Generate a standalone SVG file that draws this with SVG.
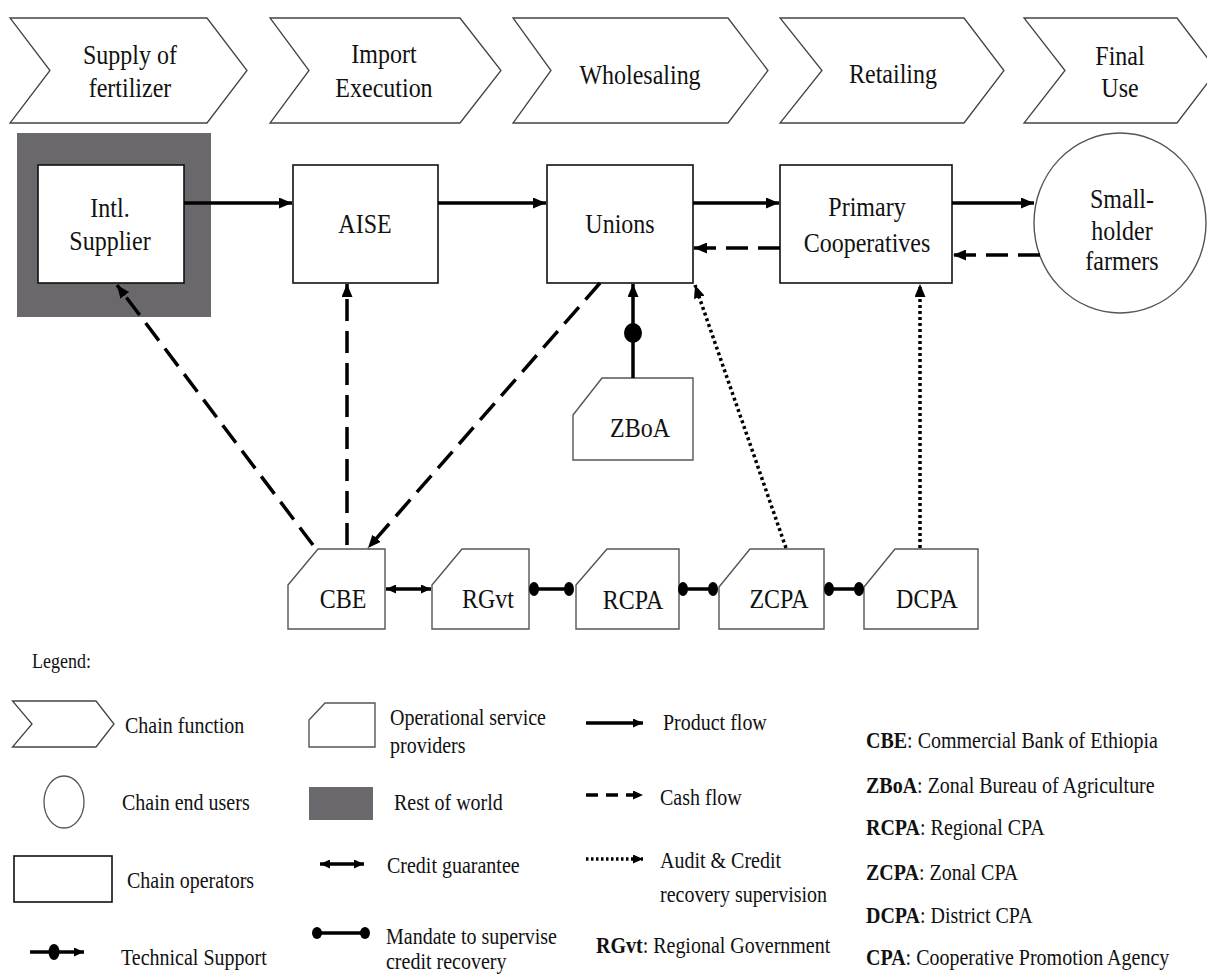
<svg xmlns="http://www.w3.org/2000/svg" width="1207" height="977" viewBox="0 0 1207 977">
<style>
  text { font-family: "Liberation Serif", "Times New Roman", serif; fill: #111; }
  .lbl { font-size: 24px; text-anchor: middle; }
  .leg { font-size: 20px; }
  .chev { fill: #fff; stroke: #444; stroke-width: 1.3; }
  .op { fill: #fff; stroke: #111; stroke-width: 1.6; }
  .svc { fill: #fff; stroke: #555; stroke-width: 1.4; }
  .prod { fill: none; stroke: #000; stroke-width: 3.5; }
  .cash { fill: none; stroke: #000; stroke-width: 3.5; stroke-dasharray: 22 10; }
  .audit { fill: none; stroke: #000; stroke-width: 3.5; stroke-dasharray: 3 3; }
  .link { fill: none; stroke: #000; stroke-width: 3.5; }
  .dot { fill: #000; }
  .row { fill: #6a676d; }
</style>
<defs>
  <marker id="ah" viewBox="0 0 13 11" refX="13" refY="5.5" markerWidth="13" markerHeight="11" markerUnits="userSpaceOnUse" orient="auto-start-reverse">
    <path d="M0,0 L13,5.5 L0,11 Z" fill="#000"/>
  </marker>
  <marker id="ahs" viewBox="0 0 10 9" refX="10" refY="4.5" markerWidth="10" markerHeight="9" markerUnits="userSpaceOnUse" orient="auto-start-reverse">
    <path d="M0,0 L10,4.5 L0,9 Z" fill="#000"/>
  </marker>
</defs>
<rect width="1207" height="977" fill="#fff"/>

<!-- Chain functions -->
<g id="chevron-supply">
  <path class="chev" d="M10,18 L207,18 L247,70.5 L207,123 L10,123 L50,70.5 Z"/>
  <text class="lbl" transform="translate(130,64) scale(1,1.18)">Supply of</text>
  <text class="lbl" transform="translate(130,97) scale(1,1.18)">fertilizer</text>
</g>
<g id="chevron-import">
  <path class="chev" d="M270,18 L460,18 L501,70.5 L460,123 L270,123 L309,70.5 Z"/>
  <text class="lbl" transform="translate(384,63) scale(1,1.18)">Import</text>
  <text class="lbl" transform="translate(384,97) scale(1,1.18)">Execution</text>
</g>
<g id="chevron-wholesaling">
  <path class="chev" d="M513,18 L728,18 L768,70.5 L728,123 L513,123 L551,70.5 Z"/>
  <text class="lbl" transform="translate(640,84) scale(1,1.18)">Wholesaling</text>
</g>
<g id="chevron-retailing">
  <path class="chev" d="M780,18 L964,18 L1004,70.5 L964,123 L780,123 L822,70.5 Z"/>
  <text class="lbl" transform="translate(893,83) scale(1,1.18)">Retailing</text>
</g>
<g id="chevron-final">
  <path class="chev" d="M1024,18 L1177,18 L1217,70.5 L1177,123 L1024,123 L1065,70.5 Z"/>
  <text class="lbl" transform="translate(1120,65) scale(1,1.18)">Final</text>
  <text class="lbl" transform="translate(1120,97) scale(1,1.18)">Use</text>
</g>

<!-- Chain operators -->
<g id="intl-supplier">
  <rect class="row" x="17" y="133" width="194" height="184"/>
  <rect class="op" x="38" y="165" width="146" height="118"/>
  <text class="lbl" transform="translate(110,217) scale(1,1.18)">Intl.</text>
  <text class="lbl" transform="translate(110,250) scale(1,1.18)">Supplier</text>
</g>
<g id="aise">
  <rect class="op" x="293" y="165" width="145" height="118"/>
  <text class="lbl" transform="translate(365,233) scale(1,1.18)">AISE</text>
</g>
<g id="unions">
  <rect class="op" x="547" y="165" width="146" height="118"/>
  <text class="lbl" transform="translate(620,233) scale(1,1.18)">Unions</text>
</g>
<g id="primary-cooperatives">
  <rect class="op" x="780" y="165" width="172" height="118"/>
  <text class="lbl" transform="translate(867,216) scale(1,1.18)">Primary</text>
  <text class="lbl" transform="translate(867,252) scale(1,1.18)">Cooperatives</text>
</g>
<g id="smallholder-farmers">
  <ellipse cx="1120" cy="223" rx="86" ry="90" fill="#fff" stroke="#555" stroke-width="1.4"/>
  <text class="lbl" transform="translate(1122,208) scale(1,1.18)">Small-</text>
  <text class="lbl" transform="translate(1122,240) scale(1,1.18)">holder</text>
  <text class="lbl" transform="translate(1122,270) scale(1,1.18)">farmers</text>
</g>

<!-- Operational service providers -->
<g id="zboa">
  <path class="svc" d="M573,415 L602,378 L693,378 L693,460 L573,460 Z"/>
  <text class="lbl" transform="translate(640,437) scale(1,1.18)">ZBoA</text>
</g>
<g id="cbe">
  <path class="svc" d="M288,585 L318,549 L385,549 L385,629 L288,629 Z"/>
  <text class="lbl" transform="translate(343,608) scale(1,1.18)">CBE</text>
</g>
<g id="rgvt">
  <path class="svc" d="M432,585 L462,549 L529,549 L529,629 L432,629 Z"/>
  <text class="lbl" transform="translate(488,608) scale(1,1.18)">RGvt</text>
</g>
<g id="rcpa">
  <path class="svc" d="M576,585 L607,549 L679,549 L679,629 L576,629 Z"/>
  <text class="lbl" transform="translate(633,609) scale(1,1.18)">RCPA</text>
</g>
<g id="zcpa">
  <path class="svc" d="M719,587 L750,549 L824,549 L824,629 L719,629 Z"/>
  <text class="lbl" transform="translate(779,608) scale(1,1.18)">ZCPA</text>
</g>
<g id="dcpa">
  <path class="svc" d="M864,587 L895,549 L978,549 L978,629 L864,629 Z"/>
  <text class="lbl" transform="translate(927,608) scale(1,1.18)">DCPA</text>
</g>

<!-- Connectors -->
<g id="connectors">
  <line class="prod" x1="184" y1="203" x2="292" y2="203" marker-end="url(#ah)"/>
  <line class="prod" x1="438" y1="203" x2="546" y2="203" marker-end="url(#ah)"/>
  <line class="prod" x1="693" y1="203" x2="779" y2="203" marker-end="url(#ah)"/>
  <line class="prod" x1="952" y1="203" x2="1034" y2="203" marker-end="url(#ah)"/>
  <line class="cash" x1="780" y1="248" x2="694" y2="248" marker-end="url(#ah)"/>
  <line class="cash" x1="1040" y1="255" x2="953" y2="255" marker-end="url(#ah)"/>
  <line class="cash" x1="313" y1="545" x2="117" y2="285" marker-end="url(#ah)"/>
  <line class="cash" x1="347" y1="545" x2="347" y2="284" marker-end="url(#ah)"/>
  <line class="cash" x1="600" y1="283" x2="368" y2="548" marker-end="url(#ah)"/>
  <line class="audit" x1="786" y1="548" x2="695" y2="285" marker-end="url(#ah)"/>
  <line class="audit" x1="920" y1="548" x2="920" y2="284" marker-end="url(#ah)"/>
  <line class="link" x1="633" y1="378" x2="633" y2="284" marker-end="url(#ah)"/>
  <ellipse class="dot" cx="633" cy="333" rx="9" ry="10"/>
  <line class="link" x1="386" y1="589" x2="431" y2="589" stroke-width="2.8" marker-start="url(#ahs)" marker-end="url(#ahs)"/>
  <line class="link" x1="534" y1="589" x2="569" y2="589"/>
  <ellipse class="dot" cx="534" cy="589" rx="5" ry="7"/>
  <ellipse class="dot" cx="569" cy="589" rx="5" ry="7"/>
  <line class="link" x1="683" y1="589" x2="713" y2="589"/>
  <ellipse class="dot" cx="683" cy="589" rx="5" ry="7"/>
  <ellipse class="dot" cx="713" cy="589" rx="5" ry="7"/>
  <line class="link" x1="829" y1="589" x2="859" y2="589"/>
  <ellipse class="dot" cx="829" cy="589" rx="5" ry="7"/>
  <ellipse class="dot" cx="859" cy="589" rx="5" ry="7"/>
</g>

<!-- Legend -->
<g id="legend">
  <text transform="translate(32,668) scale(1,1.18)" style="font-size:18px">Legend:</text>

  <path class="chev" d="M12.5,701 L96,701 L114,724 L96,747 L12.5,747 L32,724 Z"/>
  <text class="leg" transform="translate(125,733) scale(1,1.18)">Chain function</text>

  <ellipse cx="64" cy="802" rx="20" ry="26" fill="#fff" stroke="#555" stroke-width="1.3"/>
  <text class="leg" transform="translate(122,810) scale(1,1.18)">Chain  end users</text>

  <rect class="op" x="14" y="856" width="98" height="46"/>
  <text class="leg" transform="translate(127,888) scale(1,1.18)">Chain  operators</text>

  <line class="link" x1="30" y1="952" x2="84" y2="952" marker-end="url(#ahs)"/>
  <ellipse class="dot" cx="54" cy="952" rx="5.5" ry="8"/>
  <text class="leg" transform="translate(121,965) scale(1,1.18)">Technical  Support</text>

  <path class="svc" d="M309,720 L325,703 L375,703 L375,747 L309,747 Z"/>
  <text class="leg" transform="translate(390,725) scale(1,1.18)">Operational  service</text>
  <text class="leg" transform="translate(390,753) scale(1,1.18)">providers</text>

  <rect class="row" x="309" y="787" width="64" height="33"/>
  <text class="leg" transform="translate(394,810) scale(1,1.18)">Rest of world</text>

  <line class="link" x1="320" y1="864" x2="364" y2="864" stroke-width="2.8" marker-start="url(#ahs)" marker-end="url(#ahs)"/>
  <text class="leg" transform="translate(387,873) scale(1,1.18)">Credit  guarantee</text>

  <line class="link" x1="316" y1="933" x2="366" y2="933"/>
  <ellipse class="dot" cx="317" cy="933" rx="5" ry="6"/>
  <ellipse class="dot" cx="365" cy="933" rx="5" ry="6"/>
  <text class="leg" transform="translate(386,944) scale(1,1.18)">Mandate to supervise</text>
  <text class="leg" transform="translate(386,969) scale(1,1.18)">credit recovery</text>

  <line class="prod" x1="586" y1="723" x2="643" y2="723" marker-end="url(#ahs)"/>
  <text class="leg" transform="translate(663,730) scale(1,1.18)">Product flow</text>

  <line class="cash" x1="586" y1="795" x2="643" y2="795" style="stroke-dasharray:12 8" marker-end="url(#ahs)"/>
  <text class="leg" transform="translate(660,805) scale(1,1.18)">Cash flow</text>

  <line class="audit" x1="586" y1="859" x2="643" y2="859" style="stroke-dasharray:2.5 2.5" marker-end="url(#ahs)"/>
  <text class="leg" transform="translate(660,868) scale(1,1.18)">Audit &amp; Credit</text>
  <text class="leg" transform="translate(660,902) scale(1,1.18)">recovery  supervision</text>

  <text class="leg" transform="translate(596,953) scale(1,1.18)"><tspan font-weight="bold">RGvt</tspan>: Regional  Government</text>

  <text class="leg" transform="translate(866,748) scale(1,1.18)"><tspan font-weight="bold">CBE</tspan>: Commercial  Bank of Ethiopia</text>
  <text class="leg" transform="translate(866,793) scale(1,1.18)"><tspan font-weight="bold">ZBoA</tspan>: Zonal  Bureau  of Agriculture</text>
  <text class="leg" transform="translate(866,835) scale(1,1.18)"><tspan font-weight="bold">RCPA</tspan>: Regional  CPA</text>
  <text class="leg" transform="translate(866,880) scale(1,1.18)"><tspan font-weight="bold">ZCPA</tspan>:  Zonal CPA</text>
  <text class="leg" transform="translate(866,923) scale(1,1.18)"><tspan font-weight="bold">DCPA</tspan>: District  CPA</text>
  <text class="leg" transform="translate(866,965) scale(1,1.18)"><tspan font-weight="bold">CPA</tspan>: Cooperative  Promotion  Agency</text>
</g>
</svg>
